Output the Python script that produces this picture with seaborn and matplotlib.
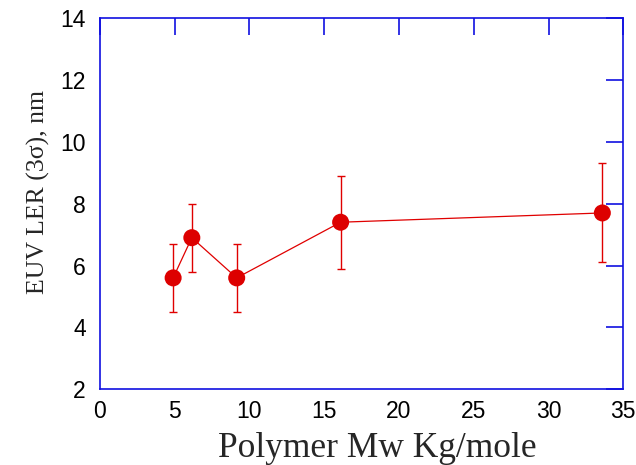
import matplotlib
matplotlib.use("Agg")
import matplotlib.pyplot as plt
import seaborn as sns
import pandas as pd

mw = [4.9, 6.15, 9.15, 16.1, 33.6]
ler = [5.6, 6.9, 5.6, 7.4, 7.7]
err_low = [1.1, 1.1, 1.1, 1.5, 1.6]
err_high = [1.1, 1.1, 1.1, 1.5, 1.6]
xticks = [0, 5, 10, 15, 20, 25, 30, 35]
yticks = [2, 4, 6, 8, 10, 12, 14]

df = pd.DataFrame({"mw": mw, "ler": ler})

sns.set_style("white")
fig = plt.figure(figsize=(6.36, 4.65), dpi=100)
ax = fig.add_axes([0.157, 0.163, 0.823, 0.798])

red = "#e00000"
ax.errorbar(mw, ler, yerr=[err_low, err_high], fmt="none", ecolor=red,
            elinewidth=1.0, capsize=3, capthick=1.0, zorder=2)
sns.lineplot(data=df, x="mw", y="ler", color=red, linewidth=0.9, ax=ax,
             zorder=3, sort=False)
sns.scatterplot(data=df, x="mw", y="ler", color="#dd0000", s=150,
                edgecolor="none", ax=ax, zorder=4)

ax.set_xlim(0, 35)
ax.set_ylim(2, 14)
ax.set_xticks(xticks)
ax.set_yticks(yticks)
ax.set_xticklabels([str(v) for v in xticks], family="Liberation Sans", fontsize=16.5)
ax.set_yticklabels([str(v) for v in yticks], family="Liberation Sans", fontsize=16.5)

blue = "#1010e0"
for s in ax.spines.values():
    s.set_visible(True)
    s.set_color(blue)
    s.set_linewidth(1.2)
ax.tick_params(axis="both", which="major", direction="in", length=12,
               width=1.2, color=blue, top=True, right=True, pad=8,
               labelcolor="black")
ax.tick_params(axis="y", pad=10)

ax.set_xlabel("Polymer Mw Kg/mole", family="Liberation Serif", fontsize=25.5)
ax.xaxis.set_label_coords(0.530, -0.183, transform=ax.transAxes)
ax.xaxis.label.set_va("baseline")
ax.set_ylabel("EUV LER (3σ), nm", family="Liberation Serif", fontsize=18.5)
ax.yaxis.set_label_coords(-0.095, 0.531, transform=ax.transAxes)
ax.yaxis.label.set_va("bottom")

fig.savefig("out.png", dpi=100)
